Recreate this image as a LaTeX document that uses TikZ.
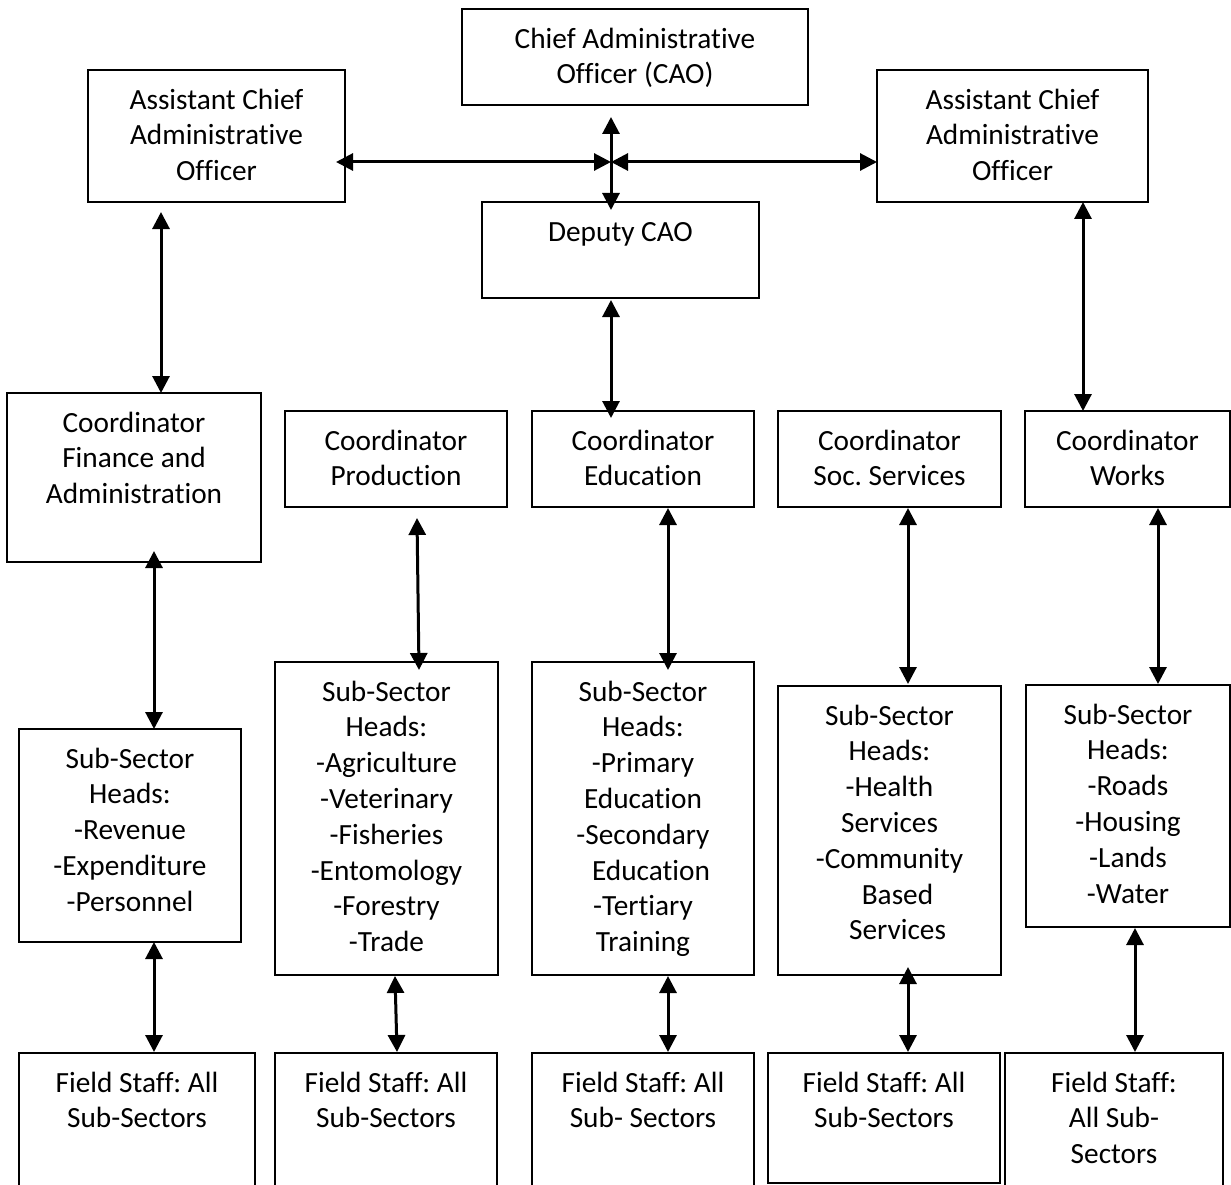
\documentclass[tikz,border=0pt]{standalone}
\usepackage{fontspec}
\setmainfont{Carlito}[RawFeature={-liga,-clig,-calt,-rlig,-dlig}]
\usetikzlibrary{arrows.meta,calc}
\frenchspacing
\newcommand{\bt}[3]{\parbox[c][#2pt][t]{#1pt}{\centering\vspace*{14pt}\strut #3\par}}
\begin{document}
\begin{tikzpicture}[x=1pt,y=-1pt,
  box/.style={draw, line width=2.2pt, inner sep=0pt, outer sep=0pt, anchor=north west,
    font=\fontsize{29.3}{35.8}\selectfont},
  arr/.style={line width=3pt, {Triangle[length=17pt,width=17pt]}-{Triangle[length=17pt,width=17pt]}}]
\fill[white] (0,0) rectangle (1231,1185);
\useasboundingbox (0,0) rectangle (1231,1185);

% top level
\node[box] (cao) at (462,9) {\bt{346}{96}{Chief Administrative\\Officer (CAO)}};
\node[box] (asl) at (88,70) {\bt{257}{132}{Assistant Chief\\Administrative\\Officer}};
\node[box] (asr) at (877,70) {\bt{271}{132}{Assistant Chief\\Administrative\\Officer}};
\node[box] (dep) at (482,202) {\bt{277}{96}{Deputy CAO}};
\coordinate (j) at (611,162);

% coordinators
\node[box] (fin) at (7,393) {\bt{254}{169}{Coordinator\\Finance and\\Administration}};
\node[box] (prod) at (285,411) {\bt{222}{96}{Coordinator\\Production}};
\node[box] (edu) at (532,411) {\bt{222}{96}{Coordinator\\Education}};
\node[box] (soc) at (778,411) {\bt{223}{96}{Coordinator\\Soc. Services}};
\node[box] (wrk) at (1025,411) {\bt{205}{96}{Coordinator\\Works}};

% sub-sector heads
\node[box] (sfin) at (19,729) {\bt{222}{213}{Sub-Sector\\Heads:\\-Revenue\\-Expenditure\\-Personnel}};
\node[box] (sprod) at (275,662) {\bt{223}{313}{Sub-Sector\\Heads:\\-Agriculture\\-Veterinary\\-Fisheries\\-Entomology\\-Forestry\\-Trade}};
\node[box] (sedu) at (532,662) {\bt{222}{313}{Sub-Sector\\Heads:\\-Primary\\Education\\-Secondary\\\hspace*{16pt}Education\\-Tertiary\\Training}};
\node[box] (ssoc) at (778,686) {\bt{223}{289}{Sub-Sector\\Heads:\\-Health\\Services\\-Community\\\hspace*{16pt}Based\\\hspace*{16pt}Services}};
\node[box] (swrk) at (1026,685) {\bt{204}{242}{Sub-Sector\\Heads:\\-Roads\\-Housing\\-Lands\\-Water}};

% field staff
\node[box] (ffin) at (19,1053) {\bt{236}{147}{Field Staff: All\\Sub-Sectors}};
\node[box] (fprod) at (275,1053) {\bt{222}{147}{Field Staff: All\\Sub-Sectors}};
\node[box] (fedu) at (532,1053) {\bt{222}{147}{Field Staff: All\\Sub- Sectors}};
\node[box] (fsoc) at (768,1053) {\bt{232}{130}{Field Staff: All\\Sub-Sectors}};
\node[box] (fwrk) at (1005,1053) {\bt{218}{147}{Field Staff:\\All Sub-\\Sectors}};

% connectors
\draw[arr] ($(cao.south west)+(149,12)$) -- ($(dep.north west)+(129,8)$);
\draw[arr] ($(asl.east)+(-9,26)$) -- (j);
\draw[arr] (j) -- ($(asr.west)+(0,26)$);
\draw[arr] ($(asl.south west)+(73,10)$) -- ($(fin.north west)+(154,0)$);
\draw[arr] ($(asr.south west)+(206,0)$) -- ($(wrk.north west)+(58,0)$);
\draw[arr] ($(dep.south west)+(129,2)$) -- ($(edu.north west)+(79,7)$);

\draw[arr] ($(fin.south west)+(147,-11)$) -- ($(sfin.north west)+(135,0)$);
\draw[arr] ($(prod.south west)+(132,11)$) -- ($(sprod.north west)+(144,8)$);
\draw[arr] ($(edu.south west)+(136,1)$) -- ($(sedu.north west)+(136,8)$);
\draw[arr] ($(soc.south west)+(130,1)$) -- ($(ssoc.north west)+(130,-2)$);
\draw[arr] ($(wrk.south west)+(133,1)$) -- ($(swrk.north west)+(132,-1)$);

\draw[arr] ($(sfin.south west)+(135,0)$) -- ($(ffin.north west)+(135,-1)$);
\draw[arr] ($(sprod.south west)+(120,1)$) -- ($(fprod.north west)+(122,-1)$);
\draw[arr] ($(sedu.south west)+(136,1)$) -- ($(fedu.north west)+(136,-1)$);
\draw[arr] ($(ssoc.south west)+(130,-8)$) -- ($(fsoc.north west)+(140,-1)$);
\draw[arr] ($(swrk.south west)+(109,1)$) -- ($(fwrk.north west)+(130,-1)$);
\end{tikzpicture}
\end{document}
